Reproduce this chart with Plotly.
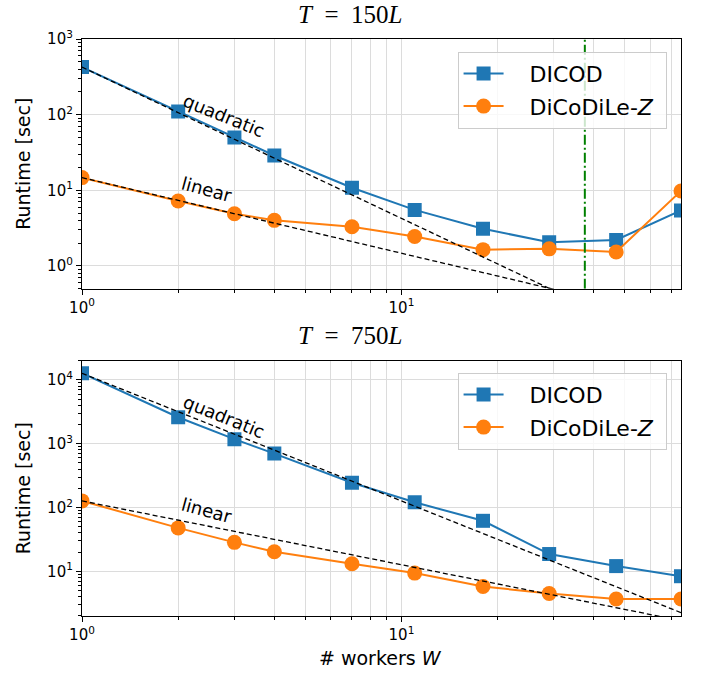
import numpy as np
import plotly.graph_objects as go

# ---- data ----
workers = [1, 2, 3, 4, 7, 11, 18, 29, 47, 75]
top_dicod = [425, 110, 50, 28.8, 10.8, 5.5, 3.1, 2.05, 2.2, 5.4]
top_dicodile = [14.7, 7.2, 4.9, 4.0, 3.3, 2.45, 1.64, 1.68, 1.53, 9.8]
bot_dicod = [12700, 2600, 1180, 700, 245, 121, 62, 18.7, 12.1, 8.4]
bot_dicodile = [127, 48, 28.5, 20.3, 13.2, 9.4, 5.8, 4.5, 3.7, 3.7]
w_split = 37.5  # green dash-dot line (top panel)
titles = ["<i>T</i>&nbsp;&nbsp;=&nbsp;&nbsp;150<i>L</i>", "<i>T</i>&nbsp;&nbsp;=&nbsp;&nbsp;750<i>L</i>"]
series_names = ["&nbsp;&nbsp;&nbsp;DICOD&nbsp;", "&nbsp;&nbsp;&nbsp;DiCoDiLe-<i>Z</i>&nbsp;"]

x_major = [1, 10]
x_major_text = ["10<sup>0</sup>", "10<sup>1</sup>"]
x_minor = [2, 3, 4, 5, 6, 7, 8, 9, 20, 30, 40, 50, 60, 70]
y_top_major = [1, 10, 100, 1000]
y_top_major_text = ["10<sup>0</sup>", "10<sup>1</sup>", "10<sup>2</sup>", "10<sup>3</sup>"]
y_bot_major = [10, 100, 1000, 10000]
y_bot_major_text = ["10<sup>1</sup>", "10<sup>2</sup>", "10<sup>3</sup>", "10<sup>4</sup>"]

BLUE = "#1f77b4"
ORANGE = "#ff7f0e"
GRID = "#dcdcdc"
FONT = "DejaVu Sans"

W = np.array(workers, dtype=float)
fig = go.Figure()


def add_panel(dicod, dicodile, xa, ya, legend):
    fig.add_trace(go.Scatter(x=workers, y=dicod, mode="lines+markers", name=series_names[0],
                             line=dict(color=BLUE, width=2),
                             marker=dict(symbol="square", size=14, color=BLUE),
                             xaxis=xa, yaxis=ya, legend=legend, legendgroup=legend + "a"))
    fig.add_trace(go.Scatter(x=workers, y=dicodile, mode="lines+markers", name=series_names[1],
                             line=dict(color=ORANGE, width=2),
                             marker=dict(symbol="circle", size=15, color=ORANGE),
                             xaxis=xa, yaxis=ya, legend=legend, legendgroup=legend + "b"))
    # reference scaling lines
    fig.add_trace(go.Scatter(x=W, y=dicod[0] / W ** 2, mode="lines", showlegend=False,
                             line=dict(color="black", width=1.3, dash="5px,3px"),
                             xaxis=xa, yaxis=ya, hoverinfo="skip"))
    fig.add_trace(go.Scatter(x=W, y=dicodile[0] / W, mode="lines", showlegend=False,
                             line=dict(color="black", width=1.3, dash="5px,3px"),
                             xaxis=xa, yaxis=ya, hoverinfo="skip"))


add_panel(top_dicod, top_dicodile, "x", "y", "legend")
add_panel(bot_dicod, bot_dicodile, "x2", "y2", "legend2")

fig.add_trace(go.Scatter(x=[w_split, w_split], y=[0.5, 1000], mode="lines", showlegend=False,
                         line=dict(color="green", width=2, dash="10px,3px,2px,3px"),
                         xaxis="x", yaxis="y", hoverinfo="skip"))

xrange = [0, float(np.log10(workers[-1]))]


def xaxis(anchor):
    return dict(type="log", range=xrange, anchor=anchor,
                tickmode="array", tickvals=x_major, ticktext=x_major_text,
                ticks="outside", ticklen=5, tickcolor="black",
                showgrid=True, gridcolor=GRID, gridwidth=1,
                showline=True, linecolor="black", linewidth=1.2, mirror=True,
                zeroline=False, tickfont=dict(family=FONT, size=15, color="black"),
                minor=dict(tickmode="array", tickvals=x_minor, ticks="outside", ticklen=3,
                           tickcolor="black", showgrid=True, gridcolor=GRID, gridwidth=1))


def yaxis(anchor, rng, major, major_text, domain):
    minor = [m * d for d in [0.1, 1, 10, 100, 1000, 10000] for m in range(2, 10)]
    return dict(type="log", range=rng, anchor=anchor, domain=domain,
                tickmode="array", tickvals=major, ticktext=major_text,
                ticks="outside", ticklen=5, tickcolor="black",
                showgrid=True, gridcolor=GRID, gridwidth=1,
                showline=True, linecolor="black", linewidth=1.2, mirror=True,
                zeroline=False, tickfont=dict(family=FONT, size=15, color="black"),
                minor=dict(tickmode="array", tickvals=minor, ticks="outside", ticklen=2.5,
                           tickcolor="black", showgrid=False))


legend_style = dict(font=dict(family=FONT, size=22, color="black"),
                    bgcolor="rgba(255,255,255,0.8)", bordercolor="#cccccc", borderwidth=1,
                    xanchor="left", yanchor="top", traceorder="grouped", tracegroupgap=1,
                    itemwidth=40)

fig.update_layout(
    width=704, height=675,
    margin=dict(l=82, r=23, t=39, b=59),
    plot_bgcolor="white", paper_bgcolor="white",
    xaxis=xaxis("y"),
    yaxis=yaxis("x", [float(np.log10(0.5)), 3], y_top_major, y_top_major_text, [0.5673, 1.0]),
    xaxis2=xaxis("y2"),
    yaxis2=yaxis("x2", [float(np.log10(2)), float(np.log10(20000))], y_bot_major, y_bot_major_text, [0.0, 0.4425]),
    legend=dict(x=0.627, y=0.978, **legend_style),
    legend2=dict(x=0.627, y=0.4217, **legend_style),
    showlegend=True,
)

ann = []
# titles
for txt, yp in zip(titles, [1.0433, 0.487]):
    ann.append(dict(text=txt, xref="paper", yref="paper", x=0.4474, y=yp, showarrow=False,
                    xanchor="center", yanchor="middle",
                    font=dict(family="Liberation Serif", size=25, color="black")))
# y labels
for yp in [0.7836, 0.2212]:
    ann.append(dict(text="Runtime [sec]", xref="paper", yref="paper", x=-0.0985, y=yp,
                    showarrow=False, textangle=-90, xanchor="center", yanchor="middle",
                    font=dict(family=FONT, size=19, color="black")))
# x label
ann.append(dict(text="# workers <i>W</i>", xref="paper", yref="paper", x=0.498, y=-0.0728,
                showarrow=False, xanchor="center", yanchor="middle",
                font=dict(family=FONT, size=19, color="black")))
# scaling labels
for xa, ya, qy, ly in [("x", "y", 1.989, 1.006), ("x2", "y2", 3.42, 1.954)]:
    ann.append(dict(text="quadratic", xref=xa, yref=ya, x=0.443, y=qy, showarrow=False,
                    textangle=22, xanchor="center", yanchor="middle",
                    font=dict(family=FONT, size=18, color="black")))
    ann.append(dict(text="linear", xref=xa, yref=ya, x=0.392, y=ly, showarrow=False,
                    textangle=15, xanchor="center", yanchor="middle",
                    font=dict(family=FONT, size=18, color="black")))
fig.update_layout(annotations=ann)

# remove the default page margin so the figure sits at the window's top-left corner
fig.write_html("out.html", config={"displayModeBar": False},
               post_script="document.body.style.margin='0';")
